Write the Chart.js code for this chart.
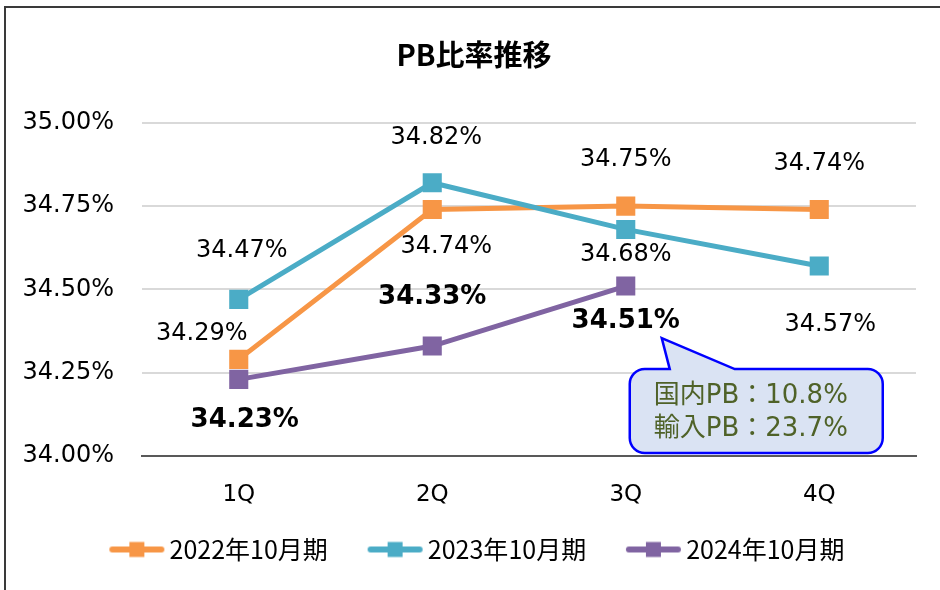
<!DOCTYPE html>
<html>
<head>
<meta charset="utf-8">
<script src="https://cdn.jsdelivr.net/npm/chart.js@4.4.1/dist/chart.umd.min.js"></script>
<style>
  html, body { margin: 0; padding: 0; background: #fff; overflow: hidden; }
  #wrap { position: relative; width: 940px; height: 590px; }
  #frame { position: absolute; left: 4px; top: 6px; width: 1000px; height: 1000px;
           border: 2px solid #3a3a3a; pointer-events: none; }
</style>
</head>
<body>
<div id="wrap">
  <canvas id="myChart" width="940" height="590"></canvas>
  <div id="frame"></div>
</div>
<script>
const categories = ['1Q', '2Q', '3Q', '4Q'];
const seriesNames = ['2022年10月期', '2023年10月期', '2024年10月期'];
const fy2022 = [34.29, 34.74, 34.75, 34.74];
const fy2023 = [34.47, 34.82, 34.68, 34.57];
const fy2024 = [34.23, 34.33, 34.51, null];
const yTicks = [34.00, 34.25, 34.50, 34.75, 35.00];
const calloutLines = ['国内PB：10.8%', '輸入PB：23.7%'];

const colors = ['#F79646', '#4BACC6', '#8064A2'];
const NUM = "'DejaVu Sans', 'Noto Sans CJK JP', sans-serif";
const JP = "'Noto Sans CJK JP', sans-serif";

// label offsets from each point (px)
const labelOffsets = [
  [[-37, -26], [14, 37], [0, -46], [0, -46]],
  [[3, -49], [4, -45], [0, 25], [11, 59]],
  [[6, 41], [0, -49], [0, 35], [0, 0]]
];

// legend marker: line with a square, drawn off-centre so the gaps match
function legendIcon(color) {
  const c = document.createElement('canvas');
  c.width = 80; c.height = 20;
  const g = c.getContext('2d');
  g.strokeStyle = color; g.lineWidth = 6; g.lineCap = 'round';
  g.beginPath(); g.moveTo(24, 10); g.lineTo(73, 10); g.stroke();
  g.fillStyle = color; g.fillRect(41, 2.5, 15, 15);
  return c;
}
const icons = colors.map(legendIcon);

// title and legend sit a bit right of the canvas centre in the original
const shiftBoxes = {
  id: 'shiftBoxes',
  afterLayout(chart) {
    if (chart.titleBlock) { chart.titleBlock.left += 16; chart.titleBlock.right += 16; }
    if (chart.legend) { chart.legend.left += 14; chart.legend.right += 14; }
  }
};

const valueLabels = {
  id: 'valueLabels',
  afterDatasetsDraw(chart) {
    const ctx = chart.ctx;
    ctx.save();
    ctx.textAlign = 'center';
    ctx.textBaseline = 'middle';
    ctx.fillStyle = '#000';
    chart.data.datasets.forEach((ds, i) => {
      const meta = chart.getDatasetMeta(i);
      ctx.font = (i === 2 ? 'bold 26px ' : '24px ') + NUM;
      meta.data.forEach((pt, j) => {
        const v = ds.data[j];
        if (v == null) return;
        const off = labelOffsets[i][j];
        ctx.fillText(v.toFixed(2) + '%', pt.x + off[0], pt.y + off[1]);
      });
    });
    ctx.restore();
  }
};

const callout = {
  id: 'callout',
  afterDraw(chart) {
    const p = chart.getDatasetMeta(2).data[2];
    const ctx = chart.ctx;
    const L = p.x + 4, T = p.y + 83, R = L + 253, B = T + 84, r = 15;
    const tipX = p.x + 36, tipY = p.y + 52;
    ctx.save();
    ctx.beginPath();
    ctx.moveTo(L + r, T);
    ctx.lineTo(p.x + 44, T);
    ctx.lineTo(tipX, tipY);
    ctx.lineTo(p.x + 109, T);
    ctx.lineTo(R - r, T);
    ctx.arcTo(R, T, R, T + r, r);
    ctx.lineTo(R, B - r);
    ctx.arcTo(R, B, R - r, B, r);
    ctx.lineTo(L + r, B);
    ctx.arcTo(L, B, L, B - r, r);
    ctx.lineTo(L, T + r);
    ctx.arcTo(L, T, L + r, T, r);
    ctx.closePath();
    ctx.fillStyle = '#DAE3F3';
    ctx.fill();
    ctx.lineWidth = 2.5;
    ctx.strokeStyle = '#0000FF';
    ctx.stroke();
    ctx.fillStyle = '#4F6228';
    ctx.font = '26px ' + NUM;
    ctx.textAlign = 'left';
    ctx.textBaseline = 'middle';
    ctx.fillText(calloutLines[0], L + 24, T + 27);
    ctx.fillText(calloutLines[1], L + 24, T + 60);
    ctx.restore();
  }
};

const seriesData = [fy2022, fy2023, fy2024];

new Chart(document.getElementById('myChart'), {
  type: 'line',
  data: {
    labels: categories,
    datasets: seriesData.map((d, i) => ({
      label: seriesNames[i],
      data: d,
      borderColor: colors[i],
      backgroundColor: colors[i],
      borderWidth: 5,
      pointStyle: 'rect',
      pointRadius: 13.5,
      pointHoverRadius: 13.5,
      pointBorderWidth: 0,
      pointBackgroundColor: colors[i],
      order: 3 - i,
      tension: 0
    }))
  },
  options: {
    responsive: false,
    animation: false,
    devicePixelRatio: 1,
    layout: { padding: { left: 0, right: 24, top: 0, bottom: 18 } },
    plugins: {
      title: {
        display: true,
        text: 'PB比率推移',
        color: '#000',
        font: { family: JP, size: 29, weight: 'bold' },
        padding: { top: 38, bottom: 50 }
      },
      legend: {
        position: 'bottom',
        labels: {
          usePointStyle: true,
          pointStyleWidth: 57.5,
          padding: 30,
          color: '#000',
          font: { family: JP, size: 25 },
          generateLabels(chart) {
            return chart.data.datasets.map((ds, i) => ({
              text: ds.label,
              pointStyle: icons[i],
              fillStyle: colors[i],
              strokeStyle: colors[i],
              lineWidth: 0,
              hidden: false,
              datasetIndex: i,
              fontColor: '#000'
            }));
          }
        }
      },
      tooltip: { enabled: false }
    },
    scales: {
      x: {
        offset: true,
        afterFit: axis => { axis.height = 51; },
        grid: { display: false, drawTicks: false },
        border: { display: true, color: '#595959', width: 2 },
        ticks: { color: '#000', font: { family: NUM, size: 23 }, padding: 25 }
      },
      y: {
        min: 34,
        max: 35,
        afterBuildTicks: axis => { axis.ticks = yTicks.map(v => ({ value: v })); },
        afterFit: axis => { axis.width = 142; },
        grid: {
          color: c => (c.tick && c.tick.value === 34 ? '#595959' : '#D9D9D9'),
          lineWidth: 2,
          drawTicks: false
        },
        border: { display: false },
        ticks: {
          color: '#000',
          font: { family: NUM, size: 24 },
          padding: 28,
          callback: v => v.toFixed(2) + '%'
        }
      }
    }
  },
  plugins: [shiftBoxes, valueLabels, callout]
});
</script>
</body>
</html>
